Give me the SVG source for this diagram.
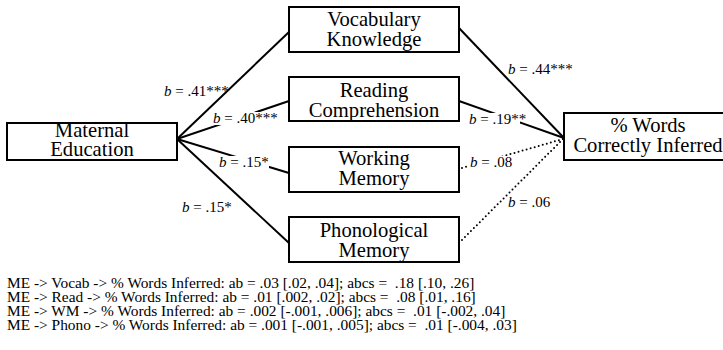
<svg xmlns="http://www.w3.org/2000/svg" width="723" height="350" viewBox="0 0 723 350">
<style>
.box{fill:#fff;stroke:#000;stroke-width:2}
text{font-family:'Liberation Serif','DejaVu Serif',serif;fill:#000}
.nt{font-size:20.6px;text-anchor:middle}
.ln{stroke:#000;stroke-width:2;fill:none}
.dt{stroke:#000;stroke-width:2;fill:none;stroke-linecap:round;stroke-dasharray:0 4.2}
.lb{font-size:15px}
.bg{fill:#fff}
.ft{font-size:15.4px}
</style>
<rect width="723" height="350" fill="#fff"/>
<g id="connectors">
<line class="ln" x1="177" y1="139" x2="289" y2="32"/>
<line class="ln" x1="177" y1="139" x2="289" y2="101"/>
<line class="ln" x1="177" y1="139" x2="289" y2="173"/>
<line class="ln" x1="177" y1="139" x2="289" y2="243"/>
<line class="ln" x1="459" y1="28" x2="564" y2="138"/>
<line class="ln" x1="459" y1="101" x2="564" y2="138"/>
<line class="dt" x1="462" y1="168" x2="563" y2="139"/>
<line class="dt" x1="462" y1="240" x2="563" y2="139"/>
<rect class="bg" x="213" y="112" width="66" height="13"/>
<rect class="bg" x="469" y="113" width="51" height="13"/>
<rect class="bg" x="219" y="156" width="50" height="13"/>
<rect class="bg" x="469" y="156" width="42" height="13"/>
<text class="lb" x="164" y="96"><tspan font-style="italic">b</tspan> = .41***</text>
<text class="lb" x="213" y="123"><tspan font-style="italic">b</tspan> = .40***</text>
<text class="lb" x="508" y="74"><tspan font-style="italic">b</tspan> = .44***</text>
<text class="lb" x="469" y="124"><tspan font-style="italic">b</tspan> = .19**</text>
<text class="lb" x="219" y="167"><tspan font-style="italic">b</tspan> = .15*</text>
<text class="lb" x="182" y="212"><tspan font-style="italic">b</tspan> = .15*</text>
<text class="lb" x="470" y="167"><tspan font-style="italic">b</tspan> = .08</text>
<text class="lb" x="508" y="207"><tspan font-style="italic">b</tspan> = .06</text>
</g>
<g id="maternal">
<rect class="box" x="7" y="123" width="170" height="37"/>
<text class="nt" x="92" y="137">Maternal</text>
<text class="nt" x="92" y="156">Education</text>
</g>
<g id="vocab">
<rect class="box" x="289" y="7" width="170" height="45"/>
<text class="nt" x="374" y="26">Vocabulary</text>
<text class="nt" x="374" y="46">Knowledge</text>
</g>
<g id="reading">
<rect class="box" x="289" y="77" width="170" height="44"/>
<text class="nt" x="374" y="97">Reading</text>
<text class="nt" x="374" y="117">Comprehension</text>
</g>
<g id="working">
<rect class="box" x="289" y="147" width="170" height="45"/>
<text class="nt" x="374" y="165">Working</text>
<text class="nt" x="374" y="185">Memory</text>
</g>
<g id="phono">
<rect class="box" x="289" y="217" width="170" height="45"/>
<text class="nt" x="374" y="237">Phonological</text>
<text class="nt" x="374" y="257">Memory</text>
</g>
<g id="words">
<rect class="box" x="564" y="113" width="170" height="47"/>
<text class="nt" x="648" y="132">% Words</text>
<text class="nt" x="648" y="152">Correctly Inferred</text>
</g>
<g id="footnote">
<text class="ft" x="7" y="287.5" xml:space="preserve">ME -&gt; Vocab -&gt; % Words Inferred: ab = .03 [.02, .04]; abcs =  .18 [.10, .26]</text>
<text class="ft" x="7" y="301.5" xml:space="preserve">ME -&gt; Read -&gt; % Words Inferred: ab = .01 [.002, .02]; abcs =  .08 [.01, .16]</text>
<text class="ft" x="7" y="316" xml:space="preserve">ME -&gt; WM -&gt; % Words Inferred: ab = .002 [-.001, .006]; abcs =  .01 [-.002, .04]</text>
<text class="ft" x="7" y="330" xml:space="preserve">ME -&gt; Phono -&gt; % Words Inferred: ab = .001 [-.001, .005]; abcs =  .01 [-.004, .03]</text>
</g>
</svg>
